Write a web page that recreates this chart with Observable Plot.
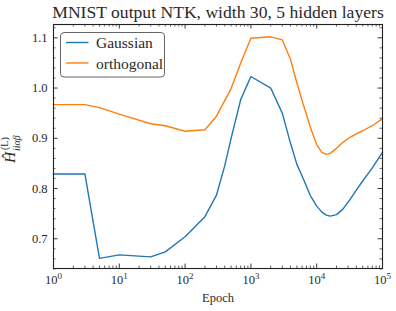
<!DOCTYPE html>
<html><head><meta charset="utf-8">
<script src="https://cdn.jsdelivr.net/npm/d3@7"></script>
<script src="https://cdn.jsdelivr.net/npm/@observablehq/plot@0.6"></script>
<style>
body{margin:0;background:#fff}
svg{font-family:"Liberation Serif","DejaVu Serif",serif}
</style>
</head><body><div id="chart"></div>
<script>
const title = "MNIST output NTK, width 30, 5 hidden layers";
const xLabel = "Epoch";
const seriesNames = ["Gaussian", "orthogonal"];
const seriesColors = ["#1f77b4", "#ff7f0e"];
const epochs = [1, 3, 5, 10, 30, 50, 100, 200, 300, 400, 500, 700, 1000, 2000, 3000, 4000, 5000, 6000, 8000, 10000, 12000, 14000, 16000, 20000, 25000, 32000, 40000, 50000, 70000, 100000];
const gaussian = [0.829, 0.829, 0.661, 0.668, 0.664, 0.674, 0.704, 0.744, 0.787, 0.845, 0.900, 0.977, 1.023, 1.000, 0.950, 0.890, 0.848, 0.825, 0.786, 0.765, 0.753, 0.747, 0.745, 0.748, 0.759, 0.778, 0.797, 0.815, 0.841, 0.872];
const orthogonal = [0.967, 0.967, 0.961, 0.948, 0.929, 0.925, 0.914, 0.917, 0.944, 0.975, 0.999, 1.050, 1.099, 1.102, 1.096, 1.057, 1.010, 0.975, 0.922, 0.887, 0.872, 0.868, 0.870, 0.880, 0.892, 0.902, 0.909, 0.915, 0.925, 0.939];
const xTicks = [1, 10, 100, 1000, 10000, 100000];
const xTickLabels = ["10^0", "10^1", "10^2", "10^3", "10^4", "10^5"];
const yTicks = [0.7, 0.8, 0.9, 1.0, 1.1];
const yTickLabels = ["0.7", "0.8", "0.9", "1.0", "1.1"];

const W = 396, H = 311;
const mt = 24, mb = 43, ml = 53, mr = 14;
const innerH = H - mt - mb, innerW = W - ml - mr;
const yDomain = [0.6408, 1.1265];

const rows = [];
epochs.forEach((e, i) => {
  rows.push({epoch: e, value: gaussian[i], series: seriesNames[0]});
  rows.push({epoch: e, value: orthogonal[i], series: seriesNames[1]});
});
const xMinor = [];
for (let d = 1; d < 100000; d *= 10) for (let k = 2; k <= 9; k++) xMinor.push(d * k);
const yMinor = d3.range(0.64, 1.125, 0.02).map(v => +v.toFixed(2)).filter(v => !yTicks.some(t => Math.abs(t - v) < 1e-6));

const tickColor = "#222";
const textColor = "#2a2a2a";
const plot = Plot.plot({
  width: W, height: H,
  marginTop: mt, marginBottom: mb, marginLeft: ml, marginRight: mr,
  x: {type: "log", domain: [1, 100000], axis: null},
  y: {domain: yDomain, axis: null},
  color: {domain: seriesNames, range: seriesColors},
  style: {fontFamily: "Liberation Serif, serif", background: "#fff"},
  marks: [
    Plot.line(rows, {x: "epoch", y: "value", stroke: "series", strokeWidth: 1.4, z: "series"}),
    Plot.ruleX(xTicks, {x: d => d, insetTop: innerH - 4.5, stroke: tickColor, strokeWidth: 0.9}),
    Plot.ruleX(xTicks, {x: d => d, insetBottom: innerH - 4.5, stroke: tickColor, strokeWidth: 0.9}),
    Plot.ruleX(xMinor, {x: d => d, insetTop: innerH - 2.5, stroke: tickColor, strokeWidth: 0.7}),
    Plot.ruleX(xMinor, {x: d => d, insetBottom: innerH - 2.5, stroke: tickColor, strokeWidth: 0.7}),
    Plot.ruleY(yTicks, {y: d => d, insetRight: innerW - 4.5, stroke: tickColor, strokeWidth: 0.9}),
    Plot.ruleY(yTicks, {y: d => d, insetLeft: innerW - 4.5, stroke: tickColor, strokeWidth: 0.9}),
    Plot.ruleY(yMinor, {y: d => d, insetRight: innerW - 2.5, stroke: tickColor, strokeWidth: 0.7}),
    Plot.ruleY(yMinor, {y: d => d, insetLeft: innerW - 2.5, stroke: tickColor, strokeWidth: 0.7}),
    Plot.frame({stroke: "#222", strokeWidth: 1.1}),
    Plot.text(xTicks, {x: d => d, text: (d, i) => xTickLabels[i], frameAnchor: "bottom", dy: 15, fontSize: 12.5, fill: textColor, textAnchor: "middle"}),
    Plot.text(yTicks, {y: d => d, text: (d, i) => yTickLabels[i], frameAnchor: "left", dx: -6, fontSize: 12.5, fill: textColor, textAnchor: "end"}),
    Plot.text([xLabel], {text: d => d, frameAnchor: "bottom", dy: 33, fontSize: 12.5, fill: textColor}),
    Plot.text([title], {text: d => d, frameAnchor: "top", dy: -19, fontSize: 17.6, fill: textColor})
  ]
});
document.getElementById("chart").appendChild(plot);

// superscript exponents on log tick labels
const svg = d3.select(plot);
svg.selectAll("text").each(function() {
  const t = d3.select(this);
  const m = /^10\^(\d)$/.exec(t.text());
  if (m) {
    t.text("10");
    t.append("tspan").attr("dy", "-0.45em").attr("font-size", "0.72em").text(m[1]);
  }
});

// y-axis label
const gl = svg.append("g").attr("transform", "translate(15,163) rotate(-90)").attr("fill", textColor).attr("text-anchor", "start");
gl.append("text").attr("x", 0).attr("y", 0).attr("font-size", 15.5).attr("font-style", "italic").text("Ĥ");
gl.append("text").attr("x", 13).attr("y", -7).attr("font-size", 10).text("(L)");
gl.append("text").attr("x", 12).attr("y", 5).attr("font-size", 10).attr("font-style", "italic").text("iiαβ");

// legend
const lg = svg.append("g").attr("text-anchor", "start");
lg.append("rect").attr("x", 60.5).attr("y", 32.5).attr("width", 104).attr("height", 44.5)
  .attr("rx", 3.5).attr("fill", "#fff").attr("fill-opacity", 0.85).attr("stroke", "#666").attr("stroke-width", 1);
seriesNames.forEach((name, i) => {
  const yy = 42.5 + i * 20.5;
  lg.append("line").attr("x1", 66).attr("x2", 88.5).attr("y1", yy).attr("y2", yy)
    .attr("stroke", seriesColors[i]).attr("stroke-width", 1.4);
  lg.append("text").attr("x", 96).attr("y", yy + 5.5).attr("font-size", 15.5).attr("fill", textColor).text(name);
});
</script>
</body></html>
